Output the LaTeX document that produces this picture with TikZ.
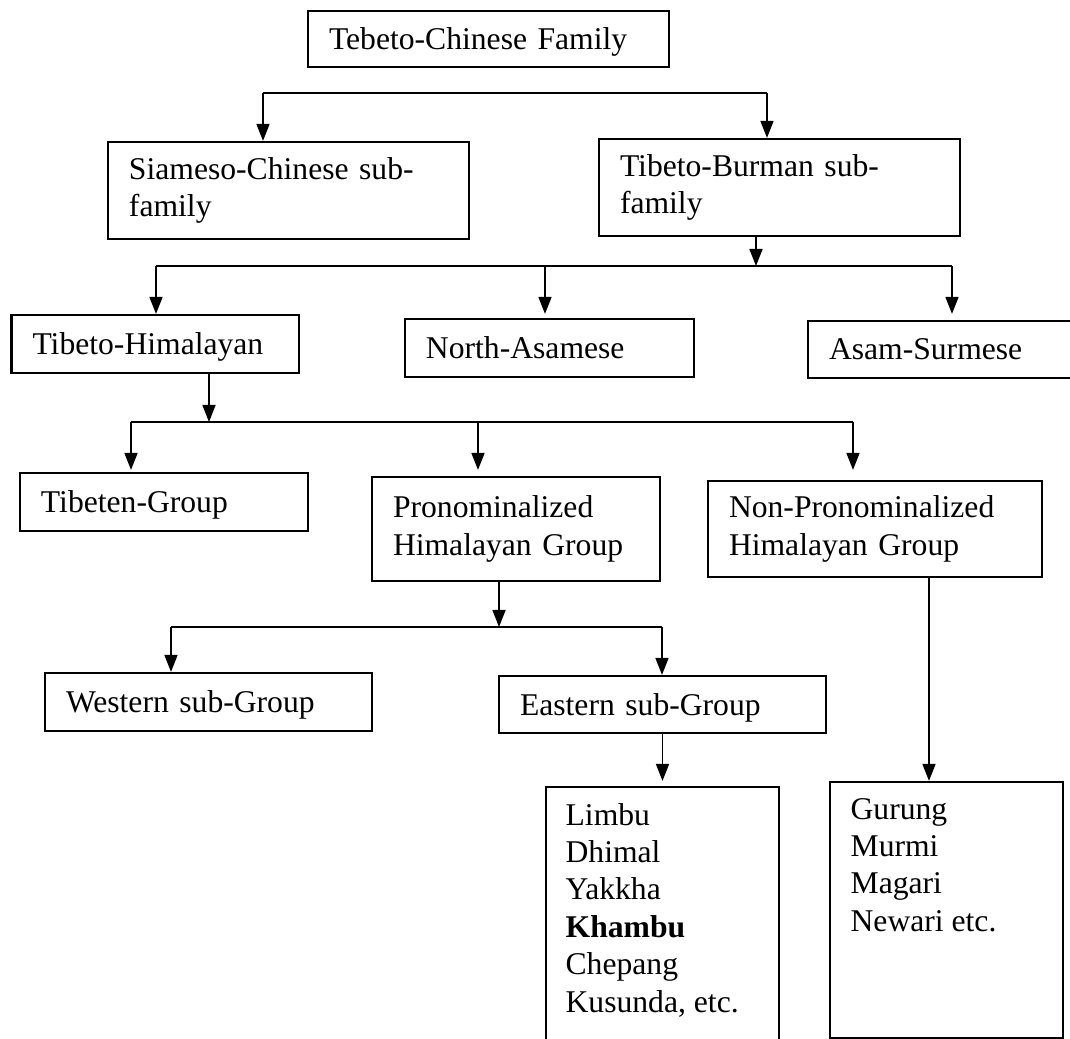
\documentclass[tikz,border=0pt]{standalone}
\usepackage{fontspec}
\setmainfont{Liberation Serif}
\usetikzlibrary{arrows.meta}
\tikzset{
  box/.style={draw, line width=0.6pt, rectangle, align=left, inner xsep=0.21cm, inner ysep=0pt, font=\fontsize{9}{10.65}\selectfont},
  onebox/.style={box, text depth=0pt},
  listtext/.style={align=left, inner sep=0pt, font=\fontsize{9}{10.65}\selectfont},
  link/.style={line width=0.45pt},
  arr/.style={link, -{Triangle[length=0.17cm, width=0.13cm]}},
}
\begin{document}
\begin{tikzpicture}
\useasboundingbox (0,0) rectangle (10.70,10.39);
\clip (0,0) rectangle (10.70,10.39);

\node[onebox, text width=3.19cm, minimum height=0.56cm] (fam) at (4.885,10.00) {Tebeto-Chinese Family};
\node[box, text width=3.19cm, minimum height=0.97cm] (siam) at (2.885,8.485) {Siameso-Chinese sub-\\family};
\node[box, text width=3.19cm, minimum height=0.97cm] (tibur) at (7.795,8.515) {Tibeto-Burman sub-\\family};

\node[onebox, text width=2.455cm, minimum height=0.58cm] (tihi) at (1.5525,6.95) {Tibeto-Himalayan};
\node[onebox, text width=2.47cm, minimum height=0.58cm] (nas) at (5.495,6.91) {North-Asamese};
\node[onebox, text width=2.46cm, minimum height=0.57cm] (asam) at (9.52,6.895) {Asam-Surmese};

\node[onebox, text width=2.46cm, minimum height=0.58cm] (tibgrp) at (1.64,5.37) {Tibeten-Group};
\node[box, text width=2.46cm, minimum height=1.04cm] (pron) at (5.16,5.10) {Pronominalized\\Himalayan Group};
\node[box, text width=2.92cm, minimum height=0.96cm] (nonpron) at (8.75,5.10) {Non-Pronominalized\\Himalayan Group};

\node[onebox, text width=2.85cm, minimum height=0.58cm] (west) at (2.085,3.37) {Western sub-Group};
\node[onebox, text width=2.85cm, minimum height=0.57cm] (east) at (6.625,3.345) {Eastern sub-Group};

% list boxes, texts set at the top
\node[box, text width=1.91cm, minimum height=2.72cm] (limbu) at (6.625,1.16) {};
\node[box, text width=1.91cm, minimum height=2.56cm] (gurung) at (9.465,1.29) {};
\node[listtext, anchor=north west] (limbutxt) at ([xshift=0.20cm, yshift=-0.165cm]limbu.north west) {Limbu\\Dhimal\\Yakkha\\\textbf{Khambu}\\Chepang\\Kusunda, etc.};
\node[listtext, anchor=north west] (gurungtxt) at ([xshift=0.21cm, yshift=-0.165cm]gurung.north west) {Gurung\\Murmi\\Magari\\Newari etc.};

% first split
\coordinate (j1l) at (2.63,9.46);
\coordinate (j1r) at (7.67,9.46);
\draw[link] (j1l) -- (j1r);
\draw[arr] (j1l) -- (j1l |- siam.north);
\draw[arr] (j1r) -- (j1r |- tibur.north);

% second split
\coordinate (j2) at (7.56,7.73);
\coordinate (j2l) at (1.56,7.73);
\coordinate (j2m) at (5.45,7.73);
\coordinate (j2r) at (9.52,7.73);
\draw[arr] (tibur.south -| j2) -- (j2);
\draw[link] (j2l) -- (j2r);
\draw[arr] (j2l) -- (j2l |- tihi.north);
\draw[arr, shorten >=0.04cm] (j2m) -- (j2m |- nas.north);
\draw[arr, shorten >=0.06cm] (j2r) -- (j2r |- asam.north);

% third split
\coordinate (j3) at (2.09,6.17);
\coordinate (j3l) at (1.31,6.17);
\coordinate (j3m) at (4.78,6.17);
\coordinate (j3r) at (8.53,6.17);
\draw[arr] (tihi.south -| j3) -- (j3);
\draw[link] (j3l) -- (j3r);
\draw[arr, shorten >=0.02cm] (j3l) -- (j3l |- tibgrp.north);
\draw[arr, shorten >=0.06cm] (j3m) -- (j3m |- pron.north);
\draw[arr, shorten >=0.10cm] (j3r) -- (j3r |- nonpron.north);

% fourth split
\coordinate (j4) at (4.99,4.12);
\coordinate (j4l) at (1.71,4.12);
\coordinate (j4r) at (6.62,4.12);
\draw[arr] (pron.south -| j4) -- (j4);
\draw[link] (j4l) -- (j4r);
\draw[arr] (j4l) -- (j4l |- west.north);
\draw[arr] (j4r) -- (j4r |- east.north);

% down to the lists
\coordinate (d5) at (9.29,0);
\draw[arr, shorten >=0.05cm] (east.south) -- (limbu.north);
\draw[arr] (nonpron.south -| d5) -- (gurung.north -| d5);

\end{tikzpicture}
\end{document}
